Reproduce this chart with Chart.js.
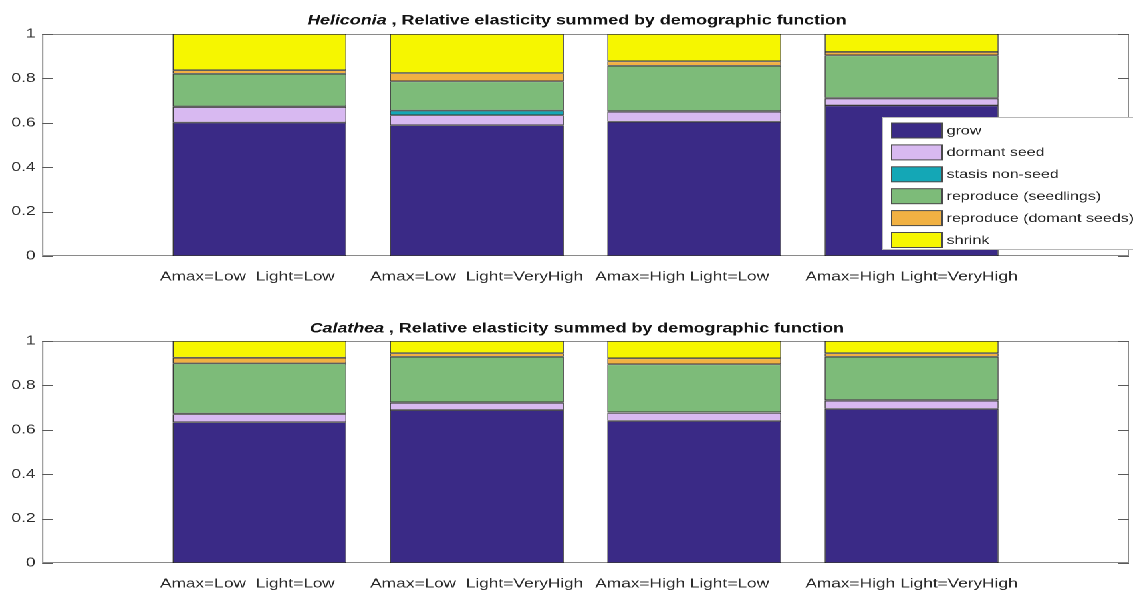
<!DOCTYPE html>
<html>
<head>
<meta charset="utf-8">
<script src="https://cdn.jsdelivr.net/npm/chart.js@4.4.0/dist/chart.umd.min.js"></script>
<style>
  html, body { margin: 0; padding: 0; background: #fff; overflow: hidden; width: 1133px; height: 592px; }
  #wrap { position: absolute; left: 0; top: 0; width: 862px; height: 592px; transform: scaleX(1.3298); transform-origin: 0 0; }
  #helic { position: absolute; left: 0; top: 0; }
  #calat { position: absolute; left: 0; top: 307px; }
</style>
</head>
<body>
<div id="wrap">
  <canvas id="helic" width="862" height="296"></canvas>
  <canvas id="calat" width="862" height="285"></canvas>
</div>
<script>
// Treatment combinations (x categories)
const treatments = ['Amax=Low  Light=Low', 'Amax=Low  Light=VeryHigh', 'Amax=High Light=Low', 'Amax=High Light=VeryHigh'];

// Demographic functions (stack order, bottom to top)
const functionNames = ['grow', 'dormant seed', 'stasis non-seed', 'reproduce (seedlings)', 'reproduce (domant seeds)', 'shrink'];
const functionColors = ['#3a2a86', '#d8b9f1', '#14a7b6', '#7dbb79', '#f1b143', '#f6f600'];

// Heliconia relative elasticities
const helGrow        = [0.601, 0.589, 0.605, 0.678];
const helDormant     = [0.070, 0.045, 0.045, 0.031];
const helStasis      = [0.003, 0.021, 0.003, 0.003];
const helSeedlings   = [0.147, 0.132, 0.204, 0.192];
const helDormSeeds   = [0.016, 0.037, 0.020, 0.015];
const helShrink      = [0.163, 0.176, 0.123, 0.081];

// Calathea relative elasticities
const calGrow        = [0.634, 0.689, 0.640, 0.694];
const calDormant     = [0.036, 0.032, 0.036, 0.037];
const calStasis      = [0.003, 0.003, 0.003, 0.003];
const calSeedlings   = [0.226, 0.205, 0.216, 0.195];
const calDormSeeds   = [0.026, 0.016, 0.027, 0.016];
const calShrink      = [0.075, 0.055, 0.078, 0.055];

const yTicks = [0, 0.2, 0.4, 0.6, 0.8, 1];

const FONT = '"Liberation Sans", Arial, Helvetica, sans-serif';

// Labels padded to equal length (char-matrix style); empty slots at both ends
const padLen = Math.max(...treatments.map(t => t.length));
const xLabels = ['', ...treatments.map(t => t.padEnd(padLen)), ''];
const slot = arr => [null, ...arr, null];

function buildDatasets(series) {
  return series.map((vals, i) => ({
    label: functionNames[i],
    data: slot(vals),
    backgroundColor: functionColors[i],
    borderColor: 'rgba(20,20,20,0.85)',
    borderWidth: 0.8,
    borderSkipped: false,
    categoryPercentage: 1.0,
    barPercentage: 0.8
  }));
}

// Title with italic species name followed by bold text
const panelTitle = {
  id: 'panelTitle',
  afterDraw(chart, args, opts) {
    const { ctx, chartArea } = chart;
    ctx.save();
    const fItal = 'italic bold 13.4px ' + FONT;
    const fBold = 'bold 13.4px ' + FONT;
    ctx.font = fItal; const w1 = ctx.measureText(opts.species).width;
    ctx.font = fBold; const w2 = ctx.measureText(opts.rest).width;
    const cx = (chartArea.left + chartArea.right) / 2 + opts.shift;
    const x = cx - (w1 + w2) / 2;
    ctx.textBaseline = 'middle';
    ctx.textAlign = 'left';
    ctx.fillStyle = '#141414';
    ctx.font = fItal; ctx.fillText(opts.species, x, opts.y);
    ctx.font = fBold; ctx.fillText(opts.rest, x + w1, opts.y);
    ctx.restore();
  }
};

// Axes box with inward tick marks on both vertical sides
const axesBox = {
  id: 'axesBox',
  beforeDatasetsDraw(chart) {
    const { ctx, chartArea: a, scales } = chart;
    ctx.save();
    ctx.strokeStyle = '#8a8a8a';
    ctx.lineWidth = 1;
    ctx.strokeRect(a.left + 0.5, a.top + 0.5, a.right - a.left - 1, a.bottom - a.top - 1);
    ctx.strokeStyle = '#5a5a5a';
    scales.y.ticks.forEach(t => {
      const py = Math.round(scales.y.getPixelForValue(t.value)) + 0.5;
      ctx.beginPath();
      ctx.moveTo(a.left, py); ctx.lineTo(a.left + 8, py);
      ctx.moveTo(a.right, py); ctx.lineTo(a.right - 8, py);
      ctx.stroke();
    });
    ctx.restore();
  }
};

// Legend box drawn inside the plot area
const insetLegend = {
  id: 'insetLegend',
  afterDatasetsDraw(chart, args, opts) {
    if (!opts.show) return;
    const { ctx } = chart;
    const bx = 663.5, by = 117.5, bw = 210, bh = 132;
    ctx.save();
    ctx.fillStyle = '#ffffff';
    ctx.fillRect(bx, by, bw, bh);
    ctx.strokeStyle = '#b8b8b8';
    ctx.lineWidth = 1;
    ctx.strokeRect(bx, by, bw, bh);
    ctx.font = '12px ' + FONT;
    ctx.textBaseline = 'middle';
    ctx.textAlign = 'left';
    chart.data.datasets.forEach((ds, i) => {
      const cy = 130.5 + i * 21.9;
      ctx.fillStyle = ds.backgroundColor;
      ctx.fillRect(670.5, cy - 7.5, 38, 15);
      ctx.strokeStyle = '#4a4a4a';
      ctx.strokeRect(670.5, cy - 7.5, 38, 15);
      ctx.fillStyle = '#262626';
      ctx.fillText(ds.label, 712, cy + 0.5);
    });
    ctx.restore();
  }
};

function makeChart(id, series, species, xAxisHeight, titleY, showLegend) {
  return new Chart(document.getElementById(id), {
    type: 'bar',
    data: { labels: xLabels, datasets: buildDatasets(series) },
    plugins: [axesBox, insetLegend, panelTitle],
    options: {
      responsive: false,
      animation: false,
      devicePixelRatio: 2,
      layout: { padding: { top: 34, right: 0, bottom: 0, left: 0 } },
      plugins: {
        legend: { display: false },
        tooltip: { enabled: false },
        title: { display: false },
        panelTitle: { species: species, rest: ' , Relative elasticity summed by demographic function', y: titleY, shift: -6.4 },
        insetLegend: { show: showLegend }
      },
      scales: {
        x: {
          stacked: true,
          offset: false,
          grid: { display: false, drawTicks: false },
          border: { display: false },
          ticks: {
            autoSkip: false, maxRotation: 0, minRotation: 0, padding: 13,
            color: '#2b2b2b', font: { family: FONT, size: 13 }
          },
          afterFit(scale) { scale.height = xAxisHeight; }
        },
        y: {
          stacked: true,
          min: 0, max: 1,
          afterBuildTicks(scale) { scale.ticks = yTicks.map(v => ({ value: v })); },
          grid: { display: false, drawTicks: false },
          border: { display: false },
          ticks: {
            padding: 5,
            color: '#2b2b2b', font: { family: FONT, size: 13 },
            callback: v => String(v)
          },
          afterFit(scale) { scale.width = 31.6; }
        }
      }
    }
  });
}

makeChart('helic', [helGrow, helDormant, helStasis, helSeedlings, helDormSeeds, helShrink], 'Heliconia', 40, 21, true);
makeChart('calat', [calGrow, calDormant, calStasis, calSeedlings, calDormSeeds, calShrink], 'Calathea', 29, 22, false);
</script>
</body>
</html>
